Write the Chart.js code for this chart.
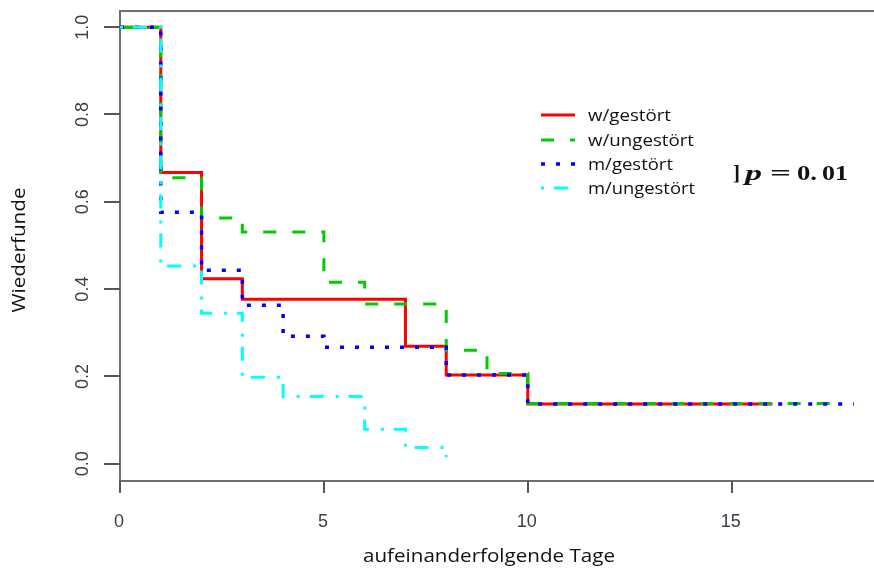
<!DOCTYPE html>
<html><head><meta charset="utf-8">
<script src="https://cdn.jsdelivr.net/npm/chart.js@4/dist/chart.umd.min.js"></script>
<style>html,body{margin:0;padding:0;background:#fff;overflow:hidden}</style>
</head><body>
<canvas id="c" width="874" height="569"></canvas>
<script>
// ---- data ----
const seriesNames = ['w/gestört', 'w/ungestört', 'm/gestört', 'm/ungestört'];
const wGestoertTimes   = [0, 1, 2, 3, 7, 8, 10, 16];
const wGestoertValues  = [1, 0.667, 0.424, 0.377, 0.269, 0.203, 0.137, 0.137];
const wUngestoertTimes  = [0, 1, 2, 3, 5, 6, 8, 9, 10, 17.6];
const wUngestoertValues = [1, 0.655, 0.563, 0.531, 0.416, 0.366, 0.26, 0.207, 0.138, 0.138];
const mGestoertTimes   = [0, 1, 2, 3, 4, 5, 8, 10, 18];
const mGestoertValues  = [1, 0.576, 0.443, 0.363, 0.292, 0.267, 0.203, 0.137, 0.137];
const mUngestoertTimes  = [0, 1, 2, 3, 4, 6, 7, 8];
const mUngestoertValues = [1, 0.453, 0.345, 0.198, 0.154, 0.079, 0.037, 0.015];
const xTickValues = [0, 5, 10, 15];
const xTickLabels = ['0', '5', '10', '15'];
const yTickValues = [0, 0.2, 0.4, 0.6, 0.8, 1.0];
const yTickLabels = ['0.0', '0.2', '0.4', '0.6', '0.8', '1.0'];
const xTitle = 'aufeinanderfolgende Tage';
const yTitle = 'Wiederfunde';
const pValueLabel = '0.01';

// ---- styles ----
const colors = ['#ff0000', '#00cd00', '#0000ff', '#00ffff'];
const dashes = [[], [13, 16], [4, 11], [3, 10, 14, 12]];
const widths = [3, 3, 3.5, 3];

function pts(t, v) { return t.map((x, i) => ({ x: x, y: v[i] })); }
const seriesData = [
  pts(wGestoertTimes, wGestoertValues),
  pts(wUngestoertTimes, wUngestoertValues),
  pts(mGestoertTimes, mGestoertValues),
  pts(mUngestoertTimes, mUngestoertValues)
];

function fitText(ctx, text, x, y, font, width, align, rot) {
  ctx.save();
  ctx.font = font;
  const w = ctx.measureText(text).width;
  ctx.translate(x, y);
  if (rot) ctx.rotate(rot);
  if (width) ctx.scale(width / w, 1);
  ctx.textAlign = align || 'left';
  ctx.fillText(text, 0, 0);
  ctx.restore();
}

const framePlugin = {
  id: 'frame',
  beforeDatasetsDraw(chart) {
    const { ctx, chartArea: a } = chart;
    ctx.save();
    ctx.strokeStyle = '#6e6e6e';
    ctx.lineWidth = 2;
    ctx.beginPath();
    ctx.moveTo(a.right + 5, a.top);
    ctx.lineTo(a.left, a.top);
    ctx.lineTo(a.left, a.bottom);
    ctx.lineTo(a.right + 5, a.bottom);
    ctx.stroke();
    ctx.restore();
  },
  afterDraw(chart) {
    const { ctx, chartArea: a, scales } = chart;
    const xs = scales.x, ys = scales.y;
    ctx.save();
    // ticks
    ctx.strokeStyle = '#555';
    ctx.lineWidth = 2;
    xTickValues.forEach(v => {
      const px = Math.round(xs.getPixelForValue(v));
      ctx.beginPath(); ctx.moveTo(px, a.bottom); ctx.lineTo(px, a.bottom + 12); ctx.stroke();
    });
    yTickValues.forEach(v => {
      const py = Math.round(ys.getPixelForValue(v));
      ctx.beginPath(); ctx.moveTo(a.left - 16, py); ctx.lineTo(a.left, py); ctx.stroke();
    });
    // tick labels
    ctx.fillStyle = '#3c3c48';
    ctx.font = '18px "Liberation Sans", Arial, sans-serif';
    ctx.textBaseline = 'alphabetic';
    xTickValues.forEach((v, i) => {
      ctx.textAlign = 'center';
      ctx.fillText(xTickLabels[i], xs.getPixelForValue(v) - 1, 527);
    });
    yTickValues.forEach((v, i) => {
      ctx.save();
      ctx.translate(88, ys.getPixelForValue(v));
      ctx.rotate(-Math.PI / 2);
      ctx.textAlign = 'center';
      ctx.fillText(yTickLabels[i], 0, 0);
      ctx.restore();
    });
    // axis titles
    ctx.fillStyle = '#111';
    fitText(ctx, xTitle, 489, 562, '19px "Open Sans", sans-serif', 252, 'center');
    fitText(ctx, yTitle, 25, 250, '19px "Open Sans", sans-serif', 125, 'center', -Math.PI / 2);
    // legend
    const rows = [115, 140, 164, 188];
    const tw = [83, 106, 85, 107];
    seriesNames.forEach((n, i) => {
      ctx.save();
      ctx.strokeStyle = colors[i];
      ctx.lineWidth = widths[i];
      ctx.setLineDash(dashes[i]);
      ctx.beginPath(); ctx.moveTo(541, rows[i]); ctx.lineTo(575, rows[i]); ctx.stroke();
      ctx.restore();
      ctx.fillStyle = '#111';
      ctx.textBaseline = 'middle';
      fitText(ctx, n, 588, rows[i] + 1, '16px "Open Sans", sans-serif', tw[i], 'left');
    });
    // p-value annotation
    ctx.fillStyle = '#111';
    ctx.textBaseline = 'alphabetic';
    const serif = '"Liberation Serif", "Times New Roman", serif';
    fitText(ctx, ']', 733, 180, 'bold 20px ' + serif, 7, 'left');
    fitText(ctx, 'p', 745, 180, 'italic bold 20px ' + serif, 17, 'left');
    fitText(ctx, '=', 770, 180, 'bold 20px ' + serif, 21, 'left');
    fitText(ctx, pValueLabel.slice(0, 2), 797, 180, 'bold 20px ' + serif, 20, 'left');
    fitText(ctx, pValueLabel.slice(2), 822, 180, 'bold 20px ' + serif, 26, 'left');
    ctx.restore();
  }
};

new Chart(document.getElementById('c'), {
  type: 'line',
  data: {
    datasets: seriesNames.map((n, i) => ({
      label: n,
      data: seriesData[i],
      borderColor: colors[i],
      borderWidth: widths[i],
      borderDash: dashes[i],
      borderCapStyle: 'butt',
      stepped: 'before',
      pointRadius: 0,
      fill: false,
      order: 3 - i
    }))
  },
  options: {
    responsive: false,
    devicePixelRatio: 1,
    animation: false,
    layout: { padding: { left: 120, top: 11, right: 0, bottom: 88 } },
    plugins: { legend: { display: false }, tooltip: { enabled: false } },
    scales: {
      x: { type: 'linear', min: 0, max: 18.49, display: false },
      y: { type: 'linear', min: -0.0395, max: 1.037, display: false }
    }
  },
  plugins: [framePlugin]
});
</script>
</body></html>
